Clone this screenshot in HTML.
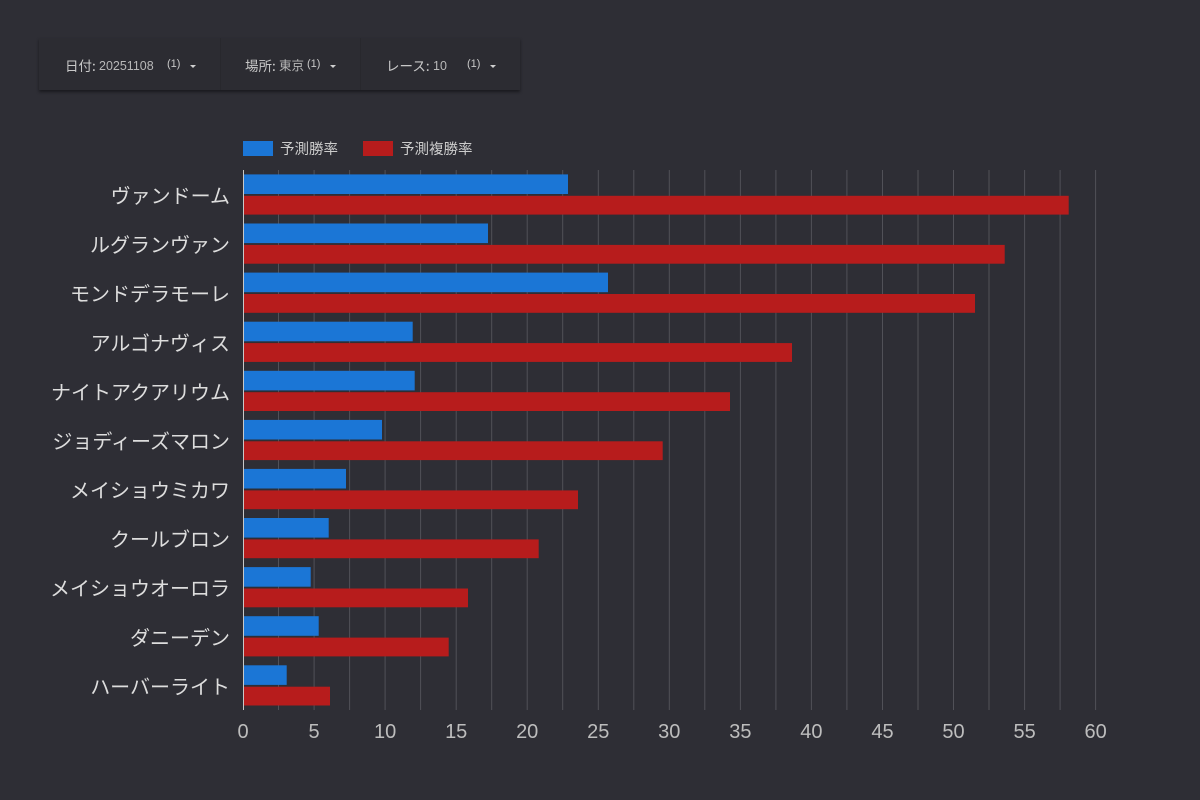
<!DOCTYPE html>
<html><head><meta charset="utf-8">
<style>
html,body{margin:0;padding:0;}
body{width:1200px;height:800px;background:#2e2e35;position:relative;overflow:hidden;font-family:"Liberation Sans","Noto Sans CJK JP",sans-serif;}
.bar{position:absolute;left:39px;top:38px;width:481px;height:52px;background:#2c2c32;box-shadow:0 2px 3px rgba(0,0,0,0.45);}
.sep{position:absolute;top:38px;width:1px;height:52px;background:#28282d;}
.t{position:absolute;color:#c8c8c8;font-family:"Noto Sans CJK JP",sans-serif;font-size:13.5px;line-height:20px;top:55px;white-space:nowrap;}
.v{position:absolute;color:#b8b8b8;font-size:12.5px;line-height:20px;top:56px;white-space:nowrap;font-family:"Liberation Sans","Noto Sans CJK JP",sans-serif;}
.c{position:absolute;color:#c8c8c8;font-size:11px;line-height:12px;top:58px;}
.caret{position:absolute;top:65px;width:0;height:0;border-left:3px solid transparent;border-right:3px solid transparent;border-top:3px solid #d0d0d0;}
svg{position:absolute;left:0;top:0;}
</style></head><body>
<div class="bar"></div>
<div class="sep" style="left:220px"></div>
<div class="sep" style="left:360px"></div>

<span class="t" style="left:65px">日付:</span><span class="v" style="left:99px">20251108</span><span class="c" style="left:167px">(1)</span><span class="caret" style="left:190px"></span>
<span class="t" style="left:245px">場所:</span><span class="v" style="left:279px">東京</span><span class="c" style="left:307px">(1)</span><span class="caret" style="left:330px"></span>
<span class="t" style="left:386px">レース:</span><span class="v" style="left:433px">10</span><span class="c" style="left:467px">(1)</span><span class="caret" style="left:490px"></span>

<svg width="1200" height="800" xmlns="http://www.w3.org/2000/svg">
<!-- legend -->
<rect x="243" y="141" width="30" height="15" fill="#1b76d6"/>
<text x="280" y="148.5" fill="#cccccc" font-size="14.5" dominant-baseline="central" font-family="Noto Sans CJK JP, sans-serif">予測勝率</text>
<rect x="363" y="141" width="30" height="15" fill="#b71c1c"/>
<text x="400" y="148.5" fill="#cccccc" font-size="14.5" dominant-baseline="central" font-family="Noto Sans CJK JP, sans-serif">予測複勝率</text>

<!-- gridlines -->
<g stroke="#515158" stroke-width="1">
<line x1="278.5" y1="170" x2="278.5" y2="710"/>
<line x1="314.1" y1="170" x2="314.1" y2="710"/>
<line x1="349.6" y1="170" x2="349.6" y2="710"/>
<line x1="385.1" y1="170" x2="385.1" y2="710"/>
<line x1="420.6" y1="170" x2="420.6" y2="710"/>
<line x1="456.2" y1="170" x2="456.2" y2="710"/>
<line x1="491.7" y1="170" x2="491.7" y2="710"/>
<line x1="527.2" y1="170" x2="527.2" y2="710"/>
<line x1="562.7" y1="170" x2="562.7" y2="710"/>
<line x1="598.3" y1="170" x2="598.3" y2="710"/>
<line x1="633.8" y1="170" x2="633.8" y2="710"/>
<line x1="669.3" y1="170" x2="669.3" y2="710"/>
<line x1="704.8" y1="170" x2="704.8" y2="710"/>
<line x1="740.4" y1="170" x2="740.4" y2="710"/>
<line x1="775.9" y1="170" x2="775.9" y2="710"/>
<line x1="811.4" y1="170" x2="811.4" y2="710"/>
<line x1="846.9" y1="170" x2="846.9" y2="710"/>
<line x1="882.5" y1="170" x2="882.5" y2="710"/>
<line x1="918.0" y1="170" x2="918.0" y2="710"/>
<line x1="953.5" y1="170" x2="953.5" y2="710"/>
<line x1="989.0" y1="170" x2="989.0" y2="710"/>
<line x1="1024.6" y1="170" x2="1024.6" y2="710"/>
<line x1="1060.1" y1="170" x2="1060.1" y2="710"/>
<line x1="1095.6" y1="170" x2="1095.6" y2="710"/>
</g>

<!-- bars -->
<g fill="#1b76d6">
<rect x="244" y="174.4" width="324" height="19.6"/>
<rect x="244" y="223.5" width="244" height="19.6"/>
<rect x="244" y="272.6" width="364" height="19.6"/>
<rect x="244" y="321.7" width="168.7" height="19.6"/>
<rect x="244" y="370.8" width="170.7" height="19.6"/>
<rect x="244" y="419.9" width="138" height="19.6"/>
<rect x="244" y="468.9" width="102" height="19.6"/>
<rect x="244" y="518.0" width="84.7" height="19.6"/>
<rect x="244" y="567.1" width="66.7" height="19.6"/>
<rect x="244" y="616.2" width="74.7" height="19.6"/>
<rect x="244" y="665.3" width="42.7" height="19.6"/>
</g>
<g fill="#b71c1c">
<rect x="244" y="195.8" width="824.7" height="18.8"/>
<rect x="244" y="244.9" width="760.7" height="18.8"/>
<rect x="244" y="294.0" width="731" height="18.8"/>
<rect x="244" y="343.1" width="548" height="18.8"/>
<rect x="244" y="392.2" width="486" height="18.8"/>
<rect x="244" y="441.3" width="418.7" height="18.8"/>
<rect x="244" y="490.4" width="334" height="18.8"/>
<rect x="244" y="539.4" width="294.7" height="18.8"/>
<rect x="244" y="588.5" width="224" height="18.8"/>
<rect x="244" y="637.6" width="204.7" height="18.8"/>
<rect x="244" y="686.7" width="86" height="18.8"/>
</g>

<!-- axis line -->
<line x1="243.5" y1="170" x2="243.5" y2="710" stroke="#c8c8c8" stroke-width="1"/>

<!-- category labels -->
<g fill="#dddddd" font-size="20" text-anchor="end" dominant-baseline="central" font-family="Noto Sans CJK JP, sans-serif">
<text x="230" y="194.5">ヴァンドーム</text>
<text x="230" y="243.6">ルグランヴァン</text>
<text x="230" y="292.7">モンドデラモーレ</text>
<text x="230" y="341.8">アルゴナヴィス</text>
<text x="230" y="390.9">ナイトアクアリウム</text>
<text x="230" y="440.0">ジョディーズマロン</text>
<text x="230" y="489.0">メイショウミカワ</text>
<text x="230" y="538.1">クールブロン</text>
<text x="230" y="587.2">メイショウオーロラ</text>
<text x="230" y="636.3">ダニーデン</text>
<text x="230" y="685.4">ハーバーライト</text>
</g>

<!-- tick labels -->
<g fill="#bdbdbd" font-size="20" text-anchor="middle" dominant-baseline="central" font-family="Liberation Sans, sans-serif">
<text x="243" y="732">0</text>
<text x="314.1" y="732">5</text>
<text x="385.1" y="732">10</text>
<text x="456.2" y="732">15</text>
<text x="527.2" y="732">20</text>
<text x="598.3" y="732">25</text>
<text x="669.3" y="732">30</text>
<text x="740.4" y="732">35</text>
<text x="811.4" y="732">40</text>
<text x="882.5" y="732">45</text>
<text x="953.5" y="732">50</text>
<text x="1024.6" y="732">55</text>
<text x="1095.6" y="732">60</text>
</g>
</svg>
</body></html>
